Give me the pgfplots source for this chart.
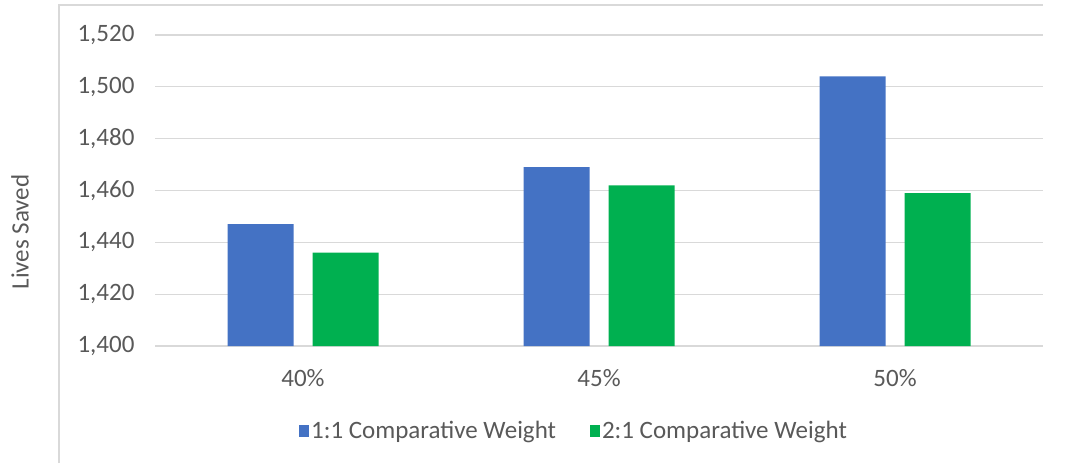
\documentclass[border=0pt]{standalone}
\usepackage{pgfplots}
\pgfplotsset{compat=1.18}
\usepackage{fontspec}
\setmainfont{Carlito}
\definecolor{barblue}{HTML}{4472C4}
\definecolor{bargreen}{HTML}{00B050}
\definecolor{gridgray}{HTML}{D9D9D9}
\definecolor{txtgray}{HTML}{595959}
\begin{document}
\begin{tikzpicture}[x=1pt,y=1pt]
\useasboundingbox (0,0) rectangle (1067,466);
\draw[gridgray,line width=1.2pt] (59,3) -- (59,461) -- (1043,461);
\begin{axis}[
  at={(155pt,120pt)}, anchor=south west,
  scale only axis, width=888pt, height=311pt,
  ybar, bar width=66pt,
  ymin=1400, ymax=1520, ytick={1400,1420,...,1520},
  xmin=-0.5, xmax=2.5, xtick=data, xticklabels={40\%,45\%,50\%},
  axis line style={draw=none},
  major tick length=0pt,
  ymajorgrids, grid style={gridgray,line width=1.2pt},
  /pgf/number format/1000 sep={,},
  /pgf/number format/assume math mode=true,
  yticklabel style={font=\fontsize{25}{27}\selectfont,text=txtgray,xshift=-17pt},
  xticklabel style={font=\fontsize{25}{27}\selectfont,text=txtgray,yshift=-20pt},
  legend style={at={(419pt,-85pt)},anchor=center,draw=none,legend columns=2,
    font=\fontsize{25}{27}\selectfont,text=txtgray,
    /tikz/every even column/.append style={column sep=32pt}},
  legend image code/.code={\fill[#1] (1pt,-6pt) rectangle (11pt,6pt);},
]
\addplot[fill=barblue, draw=none, bar shift=-42.5pt] coordinates {(0,1447) (1,1469) (2,1504)};
\addplot[fill=bargreen, draw=none, bar shift=42.5pt] coordinates {(0,1436) (1,1462) (2,1459)};
\legend{1:1 Comparative Weight,2:1 Comparative Weight}
\end{axis}
\node[rotate=90,font=\fontsize{25}{27}\selectfont,text=txtgray] at (20,234) {Lives Saved};
\end{tikzpicture}
\end{document}
